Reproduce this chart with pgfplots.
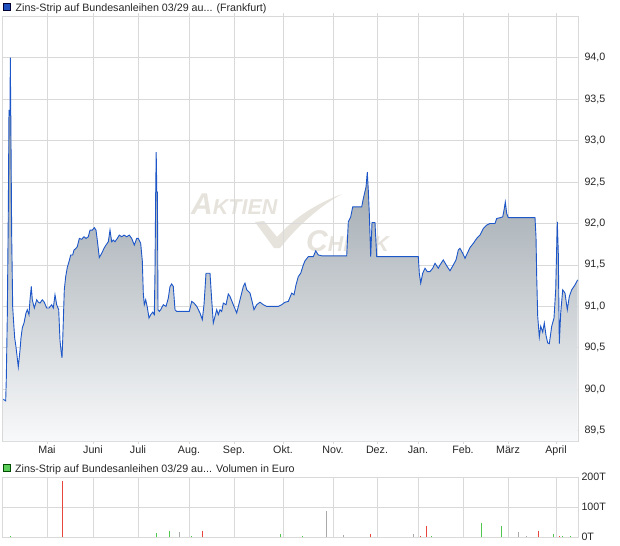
\documentclass[border=0pt]{standalone}
\usepackage{fontspec}
\setmainfont{Liberation Sans}
\usepackage{pgfplots}
\pgfplotsset{compat=1.18}
\usepackage{pgfplotstable}

\definecolor{lineblue}{RGB}{28,86,200}
\definecolor{gridgray}{RGB}{217,217,217}
\definecolor{fillTop}{RGB}{124,136,145}
\definecolor{fillBot}{RGB}{248,249,250}
\definecolor{wm}{RGB}{230,226,220}
\definecolor{volred}{RGB}{230,70,60}
\definecolor{volgreen}{RGB}{80,200,80}
\definecolor{volgray}{RGB}{170,170,170}
\definecolor{legblue}{RGB}{30,80,190}
\definecolor{leggreen}{RGB}{90,205,90}

\pgfplotstableread{
x y
3.3 89.88
5.7 89.86
6.3 90.13
7.3 90.88
8.3 92.14
9.0 93.37
10.0 93.30
10.3 94.00
10.8 93.30
11.7 91.84
12.7 90.99
14.0 90.74
14.7 90.62
16.0 90.51
18.3 90.27
20.0 90.47
21.0 90.62
22.3 90.74
24.0 90.80
26.0 90.92
27.3 90.96
29.0 90.90
30.0 91.08
31.3 91.24
32.3 91.08
34.3 90.98
36.7 91.08
38.3 91.05
40.0 91.04
42.3 91.08
44.3 91.05
46.7 90.98
49.0 90.98
51.7 91.02
53.3 90.98
55.0 91.14
56.7 91.02
58.7 90.96
60.0 90.59
61.0 90.47
62.0 90.38
62.7 90.59
64.3 91.20
65.7 91.36
67.3 91.47
69.0 91.54
70.7 91.62
72.7 91.62
74.0 91.68
76.0 91.70
77.3 91.72
79.3 91.82
81.7 91.81
84.0 91.84
86.0 91.82
88.3 91.84
90.0 91.92
92.3 91.92
94.3 91.95
96.0 91.92
97.3 91.80
99.3 91.59
101.7 91.64
104.0 91.70
106.0 91.74
108.3 91.78
110.0 91.92
111.7 91.78
113.3 91.80
115.0 91.78
117.3 91.82
119.3 91.86
121.7 91.84
124.0 91.86
126.7 91.84
129.3 91.86
131.7 91.82
134.3 91.74
136.7 91.82
138.3 91.82
140.7 91.76
142.3 91.55
143.3 91.16
144.3 91.02
145.7 91.08
147.3 90.99
149.0 90.86
150.7 90.90
152.7 90.93
154.3 90.90
155.0 91.42
155.7 92.38
156.2 92.86
156.8 92.38
157.4 92.38
158.0 90.96
159.3 90.94
160.7 90.96
163.3 91.02
166.0 91.00
168.3 91.10
170.0 91.24
171.7 91.27
173.3 91.24
175.0 90.96
176.7 90.94
189.3 90.94
191.7 91.06
194.0 91.04
196.7 91.00
200.0 90.92
202.3 90.84
204.0 91.02
206.0 91.40
210.0 91.40
211.7 91.08
213.3 90.80
215.0 90.88
216.7 90.96
218.3 90.90
220.0 90.96
221.7 90.94
223.3 91.04
226.0 91.02
228.3 91.15
230.0 91.12
233.3 91.02
236.7 90.92
240.0 91.08
243.3 91.24
245.0 91.28
246.7 91.20
250.0 91.16
251.7 91.08
254.0 90.96
256.7 91.02
260.0 91.05
263.3 91.02
266.7 91.00
278.3 91.00
281.7 91.02
285.0 91.05
288.3 91.06
291.7 91.16
294.0 91.14
296.0 91.26
298.3 91.36
300.7 91.40
303.3 91.50
305.0 91.55
308.3 91.60
313.3 91.60
315.7 91.67
318.3 91.62
321.7 91.61
346.7 91.61
348.3 92.02
350.7 92.08
352.7 92.20
361.7 92.20
363.3 92.30
366.0 92.44
367.3 92.62
368.3 92.40
369.3 92.12
370.7 91.60
372.0 92.01
375.0 92.01
376.7 91.60
418.3 91.60
419.3 91.40
420.7 91.28
422.7 91.40
425.0 91.46
427.3 91.42
430.0 91.42
432.7 91.46
435.0 91.52
436.7 91.49
438.3 91.46
440.0 91.50
443.3 91.56
446.7 91.49
450.0 91.43
453.3 91.50
456.0 91.56
458.3 91.68
460.0 91.70
462.7 91.64
465.0 91.58
467.3 91.64
470.0 91.71
473.3 91.76
476.7 91.82
480.0 91.86
483.3 91.94
486.7 91.98
490.0 92.00
495.0 92.00
496.7 92.06
500.0 92.07
502.7 92.08
504.0 92.16
505.3 92.26
506.7 92.12
508.3 92.07
535.0 92.07
536.0 91.84
536.7 91.36
537.7 90.88
539.3 90.63
540.7 90.76
542.7 90.69
544.3 90.80
546.0 90.65
547.7 90.56
549.3 90.55
551.7 90.76
554.0 90.86
555.7 91.20
556.7 91.72
557.3 92.02
558.3 91.64
559.3 90.55
560.7 90.92
562.7 91.20
565.0 91.16
567.3 90.96
569.3 91.12
571.7 91.20
575.0 91.26
577.7 91.32
}\pricedata

\pgfplotsset{
  chartbase/.style={
    scale only axis, width=575.5bp,
    xmin=2.5, xmax=578,
    axis line style={gridgray, line width=0.8bp},
    grid=major, major grid style={gridgray, line width=0.8bp},
    xtick={47,93,138,189,234,283,333,377,418,463,508,556},
    yticklabel pos=right,
    /pgf/number format/assume math mode=true,
    tick label style={font=\fontsize{10.7bp}{12bp}\selectfont, text=black!85},
    ytick style={draw=none},
  }
}

\begin{document}
\begin{tikzpicture}[font=\fontsize{10.7bp}{12bp}\selectfont]
\useasboundingbox (0,0) rectangle (620bp,-546bp);

% watermark
\node[anchor=base west, inner sep=0, text=wm, font=\fontsize{30bp}{32bp}\selectfont\bfseries\itshape] at (191bp,-214bp) {A\fontsize{21.5bp}{24bp}\selectfont KTIEN};
\node[anchor=base west, inner sep=0, text=wm, font=\fontsize{30bp}{32bp}\selectfont\bfseries\itshape] at (306bp,-251bp) {C\fontsize{21.5bp}{24bp}\selectfont HECK};
\fill[wm] (255bp,-222bp) -- (264bp,-221bp) -- (277bp,-237bp) .. controls (296bp,-216bp) and (318bp,-203bp) .. (342bp,-194bp) .. controls (318bp,-207bp) and (296bp,-228bp) .. (280bp,-248bp) -- (274bp,-248bp) -- cycle;

% title legend
\draw[fill=legblue, draw=black!80!blue, line width=0.6bp] (3bp,-3bp) rectangle (10bp,-10bp);
\node[anchor=base west, inner sep=0, text=black!85] at (15.5bp,-11.5bp) {Zins-Strip auf Bundesanleihen 03/29 au... (Frankfurt)};

\begin{axis}[chartbase,
  at={(2.5bp,-16bp)}, anchor=north west,
  height=425bp,
  ymin=89.376, ymax=94.503,
  xticklabels={Mai,Juni,Juli,Aug.,Sep.,Okt.,Nov.,Dez.,Jan.,Feb.,März,April},
  ytick={89.5,90,90.5,91,91.5,92,92.5,93,93.5,94},
  yticklabel style={/pgf/number format/.cd, fixed, fixed zerofill, precision=1, use comma},
  tick align=outside, major tick length=3bp,
  xtick style={gridgray, line width=0.8bp},
  xticklabel style={yshift=1.5bp},
]
\addplot[draw=none, top color=fillTop, bottom color=fillBot] table {\pricedata} |- (axis cs:3.3,89.376) -- cycle;
\addplot[lineblue, line width=0.9bp, mark=none] table {\pricedata};
\end{axis}

% volume legend
\draw[fill=leggreen, draw=black!70!green, line width=0.6bp] (3.5bp,-464bp) rectangle (10.5bp,-471bp);
\node[anchor=base west, inner sep=0, text=black!85] at (15bp,-472.5bp) {Zins-Strip auf Bundesanleihen 03/29 au... Volumen in Euro};

\begin{axis}[chartbase,
  at={(2.5bp,-477bp)}, anchor=north west,
  height=60bp,
  ymin=0, ymax=200,
  xticklabels={},
  xtick style={draw=none},
  ytick={0,100,200},
  yticklabels={0T,100T,200T},
]
\addplot[ycomb, volred, line width=0.9bp, mark=none] coordinates {(62,186) (202,20) (370,10) (420,3) (426,37) (538,20) (559,4)};
\addplot[ycomb, volgreen, line width=0.9bp, mark=none] coordinates {(10,3) (156.5,14) (169,20) (191,4) (280,11) (302,2) (431,4) (481,47) (501,37) (553,11) (562,5) (570,4)};
\addplot[ycomb, volgray, line width=0.9bp, mark=none] coordinates {(179,17) (326,88) (343,7) (413,10) (518,17) (526,2)};
\end{axis}
\end{tikzpicture}
\end{document}
